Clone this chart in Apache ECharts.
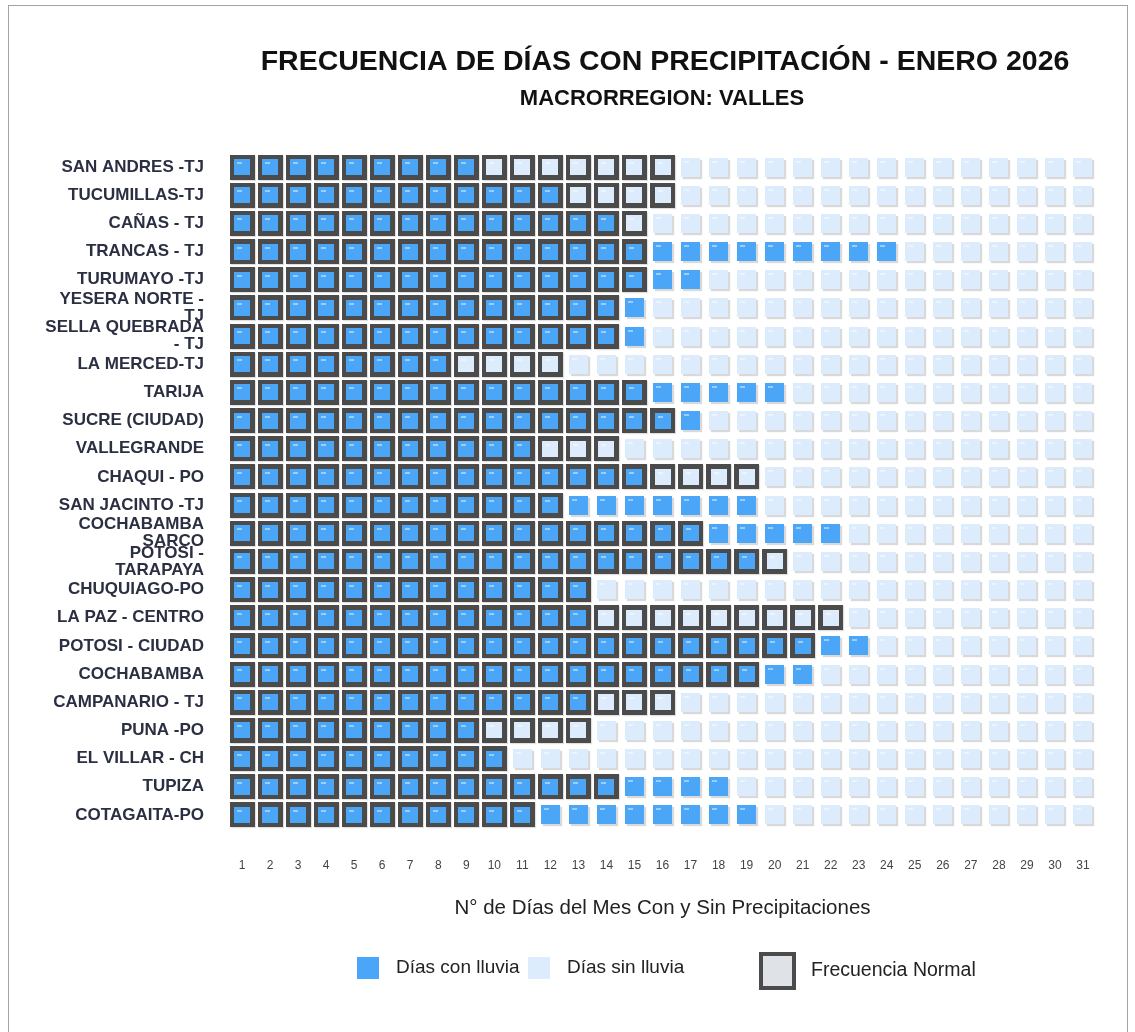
<!DOCTYPE html>
<html>
<head>
<meta charset="utf-8">
<script src="https://cdn.jsdelivr.net/npm/echarts@6/dist/echarts.min.js"></script>
<style>
html, body { margin: 0; padding: 0; background: #fff; }
#frame { position: absolute; left: 8px; top: 5px; width: 1120px; height: 1100px; border: 1px solid #a3a3a3; box-sizing: border-box; }
#main { position: absolute; left: 0; top: 0; width: 1135px; height: 1032px; }
</style>
</head>
<body>
<div id="frame"></div>
<div id="main"></div>
<script>
// estaciones (orden de arriba hacia abajo)
var stations = [
    'SAN ANDRES -TJ', 'TUCUMILLAS-TJ', 'CAÑAS - TJ', 'TRANCAS - TJ', 'TURUMAYO -TJ',
    'YESERA NORTE -\nTJ', 'SELLA QUEBRADA\n- TJ', 'LA MERCED-TJ', 'TARIJA', 'SUCRE (CIUDAD)',
    'VALLEGRANDE', 'CHAQUI - PO', 'SAN JACINTO -TJ', 'COCHABAMBA\nSARCO', 'POTOSI -\nTARAPAYA',
    'CHUQUIAGO-PO', 'LA PAZ - CENTRO', 'POTOSI - CIUDAD', 'COCHABAMBA', 'CAMPANARIO - TJ',
    'PUNA -PO', 'EL VILLAR - CH', 'TUPIZA', 'COTAGAITA-PO'
];
// dias del mes
var days = ['1','2','3','4','5','6','7','8','9','10','11','12','13','14','15','16',
    '17','18','19','20','21','22','23','24','25','26','27','28','29','30','31'];
// dias con lluvia registrados en enero
var rainDays = [9, 12, 14, 24, 17, 15, 15, 8, 20, 17, 11, 15, 19, 22, 19, 13, 13, 23, 21, 13, 9, 10, 18, 19];
// frecuencia normal de dias con lluvia
var normalDays = [16, 16, 15, 15, 15, 14, 14, 12, 15, 16, 14, 19, 12, 17, 20, 13, 22, 21, 19, 16, 13, 10, 14, 11];

var BLUE = '#4ba6f7';
var LIGHT = '#dcecfc';
var DARK = '#4b4b4b';
var FONT = '"Liberation Sans", Arial, sans-serif';

var rainData = [], dryData = [], normalData = [];
for (var i = 0; i < stations.length; i++) {
    for (var d = 1; d <= days.length; d++) {
        var isN = d <= normalDays[i] ? 1 : 0;
        if (isN) normalData.push([d - 1, i]);
        if (d <= rainDays[i]) rainData.push([d - 1, i, isN]);
        else dryData.push([d - 1, i, isN]);
    }
}

// celda de color (lluvia / sin lluvia)
function cellRender(color) {
    return function (params, api) {
        var p = api.coord([api.value(0), api.value(1)]);
        var bw = api.size([1, 1])[0];
        var isN = api.value(2) == 1;
        var s = isN ? Math.round(bw * 0.57) : Math.round(bw * 0.68);
        var x = Math.round(p[0] - s / 2), y = Math.round(p[1] - s / 2);
        return {
            type: 'group',
            children: [
                { type: 'rect', shape: { x: x, y: y, width: s, height: s },
                  style: { fill: color, shadowColor: isN ? 'rgba(0,0,0,0)' : 'rgba(0,0,0,0.15)', shadowOffsetX: 2, shadowOffsetY: 2, shadowBlur: 1 } },
                { type: 'rect', shape: { x: x + 3, y: y + 3, width: 5, height: 2 },
                  style: { fill: 'rgba(255,255,255,0.45)' } }
            ]
        };
    };
}
// marco de frecuencia normal
function normalRender(params, api) {
    var p = api.coord([api.value(0), api.value(1)]);
    var bw = api.size([1, 1])[0];
    var s = Math.round(bw * 0.89);
    return {
        type: 'rect',
        shape: { x: Math.round(p[0] - s / 2), y: Math.round(p[1] - s / 2), width: s, height: s },
        style: { fill: DARK, shadowColor: 'rgba(0,0,0,0.12)', shadowOffsetX: 1, shadowOffsetY: 1, shadowBlur: 1 }
    };
}

var legendText = { fontSize: 19, color: '#222', fontFamily: FONT, padding: [0, 0, 0, 12] };

var option = {
    animation: false,
    title: [
        { text: 'FRECUENCIA DE DÍAS CON PRECIPITACIÓN - ENERO 2026', left: 660, top: 43, textAlign: 'center',
          textStyle: { fontSize: 28.5, fontWeight: 'bold', color: '#111', fontFamily: FONT } },
        { text: 'MACRORREGION: VALLES', left: 657, top: 83, textAlign: 'center',
          textStyle: { fontSize: 22, fontWeight: 'bold', color: '#111', fontFamily: FONT } }
    ],
    legend: [
        { data: [{ name: 'Días con lluvia', icon: 'rect', itemStyle: { color: BLUE } }], left: 357, top: 957, padding: 0,
          itemWidth: 22, itemHeight: 22, selectedMode: false, textStyle: legendText },
        { data: [{ name: 'Días sin lluvia', icon: 'rect', itemStyle: { color: LIGHT } }], left: 528, top: 957, padding: 0,
          itemWidth: 22, itemHeight: 22, selectedMode: false, textStyle: legendText },
        { data: [{ name: 'Frecuencia Normal', icon: 'rect', itemStyle: { color: '#dfe3e7', borderColor: DARK, borderWidth: 4 } }],
          left: 759, top: 952, padding: 0, itemWidth: 33, itemHeight: 34, selectedMode: false,
          textStyle: { fontSize: 19.5, color: '#222', fontFamily: FONT, padding: [0, 0, 0, 12] } }
    ],
    grid: { left: 228, top: 153, width: 869, height: 676 },
    xAxis: {
        type: 'category', data: days, position: 'bottom',
        name: 'N° de Días del Mes Con y Sin Precipitaciones', nameLocation: 'middle', nameGap: 69,
        nameTextStyle: { fontSize: 20.5, color: '#222', fontFamily: FONT },
        axisLine: { show: false }, axisTick: { show: false }, splitLine: { show: false },
        axisLabel: { margin: 31, fontSize: 12, color: '#444', fontFamily: FONT }
    },
    yAxis: {
        type: 'category', data: stations, inverse: true,
        axisLine: { show: false }, axisTick: { show: false }, splitLine: { show: false },
        axisLabel: { margin: 24, fontSize: 17, fontWeight: 'bold', color: '#2b2f42', fontFamily: FONT, lineHeight: 17 }
    },
    series: [
        { name: 'Frecuencia Normal', type: 'custom', renderItem: normalRender, data: normalData,
          encode: { x: 0, y: 1 }, itemStyle: { color: '#dfe3e7', borderColor: DARK, borderWidth: 4 } },
        { name: 'Días con lluvia', type: 'custom', renderItem: cellRender(BLUE), data: rainData,
          encode: { x: 0, y: 1 }, itemStyle: { color: BLUE } },
        { name: 'Días sin lluvia', type: 'custom', renderItem: cellRender(LIGHT), data: dryData,
          encode: { x: 0, y: 1 }, itemStyle: { color: LIGHT } }
    ]
};

var chart = echarts.init(document.getElementById('main'));
chart.setOption(option);
</script>
</body>
</html>
